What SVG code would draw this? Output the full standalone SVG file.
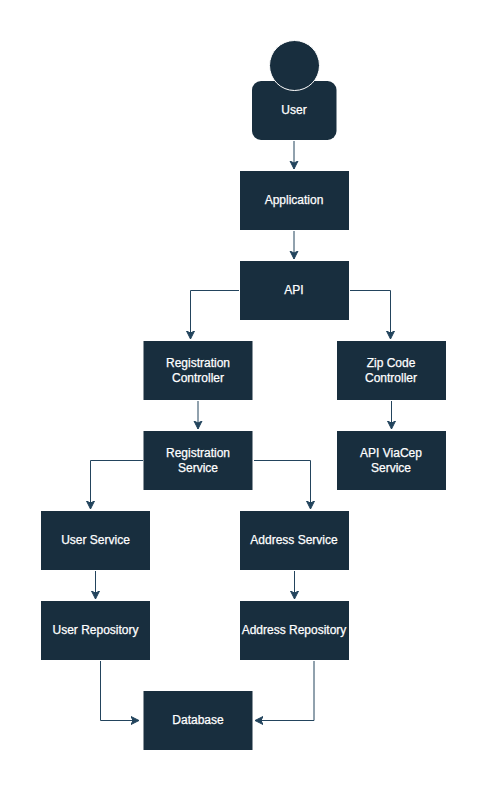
<svg xmlns="http://www.w3.org/2000/svg" width="488" height="791" viewBox="0 0 488 791">
<style>
.n{fill:#182e3e}
.u{fill:#182e3e;stroke:#fff;stroke-width:1}
.t{fill:#fff;stroke:#fff;stroke-width:.25;font:12px/1 "Liberation Sans",Arial,sans-serif;text-anchor:middle}
.c{fill:none;stroke:#23445d;stroke-width:1;marker-end:url(#a)}
</style>
<defs><marker id="a" markerUnits="userSpaceOnUse" markerWidth="10" markerHeight="10" refX="8" refY="4.5" orient="auto"><path d="M0 0.5L8 4.500L0 8.500L2 4.500Z" fill="#23445d" stroke="#23445d" stroke-width="1"/></marker></defs>
<rect width="488" height="791" fill="#fff"/>
<g id="connectors">
<path class="c" d="M294 141V169"/>
<path class="c" d="M294 231V259"/>
<path class="c" d="M239 290.500H190.500V339"/>
<path class="c" d="M350 290.500H390.500V339"/>
<path class="c" d="M198 401V429"/>
<path class="c" d="M391.500 401V429"/>
<path class="c" d="M143 460.500H90.500V509"/>
<path class="c" d="M254 460.500H310.500V509"/>
<path class="c" d="M95.500 571V599"/>
<path class="c" d="M294.500 571V599"/>
<path class="c" d="M100.500 661V720.500H139"/>
<path class="c" d="M314 661V720.500H255"/>
</g>
<g id="user"><rect class="n" x="252" y="81" width="84.500" height="59" rx="9"/><circle class="u" cx="294.500" cy="65.500" r="25"/><text class="t" x="294" y="114">User</text></g>
<g id="application"><rect class="n" x="240" y="171" width="109" height="59"/><text class="t" x="294" y="204">Application</text></g>
<g id="api"><rect class="n" x="240" y="261" width="109" height="59"/><text class="t" x="294" y="294">API</text></g>
<g id="registration-controller"><rect class="n" x="143.500" y="341" width="109" height="59"/><text class="t" x="198" y="367">Registration</text><text class="t" x="198" y="382">Controller</text></g>
<g id="zip-code-controller"><rect class="n" x="337" y="341" width="109" height="59"/><text class="t" x="391" y="367">Zip Code</text><text class="t" x="391" y="382">Controller</text></g>
<g id="registration-service"><rect class="n" x="143.500" y="431" width="109" height="59"/><text class="t" x="198" y="457">Registration</text><text class="t" x="198" y="472">Service</text></g>
<g id="api-viacep-service"><rect class="n" x="337" y="431" width="109" height="59"/><text class="t" x="391" y="457">API ViaCep</text><text class="t" x="391" y="472">Service</text></g>
<g id="user-service"><rect class="n" x="41" y="511" width="109" height="59"/><text class="t" x="95.500" y="544">User Service</text></g>
<g id="address-service"><rect class="n" x="240" y="511" width="109" height="59"/><text class="t" x="294" y="544">Address Service</text></g>
<g id="user-repository"><rect class="n" x="41" y="601" width="109" height="59"/><text class="t" x="95.500" y="634">User Repository</text></g>
<g id="address-repository"><rect class="n" x="240" y="601" width="109" height="59"/><text class="t" x="294" y="634">Address Repository</text></g>
<g id="database"><rect class="n" x="143.500" y="691" width="109" height="59"/><text class="t" x="198" y="724">Database</text></g>
</svg>
